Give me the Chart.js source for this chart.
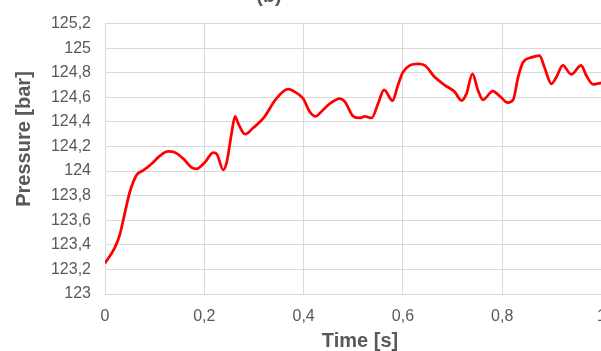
<!DOCTYPE html>
<html>
<head>
<meta charset="utf-8">
<script src="https://cdn.jsdelivr.net/npm/chart.js@4/dist/chart.umd.min.js"></script>
<style>
  html, body { margin: 0; padding: 0; background: #ffffff; overflow: hidden; }
  #wrap { position: relative; width: 619px; height: 351px; }
</style>
</head>
<body>
<div id="wrap"><canvas id="chart"></canvas></div>
<script>
// Time samples [s] and pressure readings [bar]
const times = [0, 0.02, 0.03, 0.04, 0.05, 0.064, 0.077, 0.094, 0.111, 0.127, 0.141, 0.158, 0.174, 0.184,
  0.201, 0.218, 0.225, 0.238, 0.245, 0.255, 0.262, 0.268, 0.282, 0.298, 0.319, 0.345, 0.369, 0.382,
  0.399, 0.412, 0.424, 0.436, 0.453, 0.473, 0.483, 0.5, 0.513, 0.523, 0.537, 0.55, 0.562, 0.579, 0.59,
  0.6, 0.614, 0.63, 0.644, 0.664, 0.684, 0.704, 0.718, 0.728, 0.74, 0.751, 0.761, 0.781, 0.795,
  0.811, 0.822, 0.832, 0.842, 0.859, 0.875, 0.885, 0.899, 0.909, 0.922, 0.939, 0.959, 0.969, 0.983, 1.0];
const pressures = [123.25, 123.38, 123.485, 123.66, 123.83, 123.97, 124.005, 124.06, 124.125, 124.16, 124.152, 124.10, 124.03, 124.018,
  124.07, 124.15, 124.14, 124.01, 124.07, 124.31, 124.445, 124.39, 124.30, 124.35, 124.43, 124.59, 124.666, 124.645,
  124.59, 124.485, 124.445, 124.485, 124.55, 124.59, 124.565, 124.445, 124.432, 124.445, 124.432, 124.55, 124.66, 124.574, 124.70,
  124.805, 124.86, 124.872, 124.86, 124.765, 124.70, 124.645, 124.574, 124.63, 124.79, 124.66, 124.58, 124.65, 124.61,
  124.557, 124.58, 124.765, 124.885, 124.925, 124.94, 124.845, 124.71, 124.765, 124.86, 124.787, 124.86, 124.78, 124.706, 124.718];

// Axis ranges and labels
const xRange = [0, 1, 0.2];
const yRange = [123, 125.2, 0.2];
const chartTitle = '(b)';
const xTitle = 'Time [s]';
const yTitle = 'Pressure [bar]';

const textColor = '#595959';
const gridColor = '#d9d9d9';

function commaDecimal(v) {
  return String(Math.round(v * 10) / 10).replace('.', ',');
}

// Titles drawn at fixed spots around the plot
const titlesPlugin = {
  id: 'titles',
  afterDraw(chart) {
    const ctx = chart.ctx;
    ctx.save();
    ctx.fillStyle = textColor;
    ctx.font = 'bold 20px "Liberation Sans", Arial, sans-serif';
    ctx.textAlign = 'center';
    ctx.textBaseline = 'alphabetic';
    ctx.fillText(xTitle, 360, 347);
    ctx.fillText(chartTitle, 269, 1.5);
    ctx.translate(29.5, 139);
    ctx.rotate(-Math.PI / 2);
    ctx.fillText(yTitle, 0, 0);
    ctx.restore();
  }
};

new Chart(document.getElementById('chart'), {
  type: 'line',
  data: {
    datasets: [{
      data: times.map((t, i) => ({ x: t, y: pressures[i] })),
      borderColor: '#ff0000',
      borderWidth: 2.75,
      pointRadius: 0,
      fill: false,
      cubicInterpolationMode: 'monotone'
    }]
  },
  options: {
    responsive: true,
    maintainAspectRatio: false,
    animation: false,
    layout: { padding: { top: 19, left: 0, right: 0, bottom: 0 } },
    plugins: { legend: { display: false }, tooltip: { enabled: false } },
    scales: {
      x: {
        type: 'linear',
        min: xRange[0], max: xRange[1],
        afterFit(scale) { scale.height = 57; },
        ticks: {
          stepSize: xRange[2],
          padding: 13,
          color: textColor,
          font: { size: 16, family: '"Liberation Sans", Arial, sans-serif' },
          callback: v => commaDecimal(v),
          maxRotation: 0
        },
        grid: { color: gridColor, lineWidth: 1, drawTicks: false },
        border: { color: gridColor, width: 1 }
      },
      y: {
        min: yRange[0], max: yRange[1],
        afterFit(scale) { scale.width = 105; },
        ticks: {
          stepSize: yRange[2],
          padding: 14,
          color: textColor,
          font: { size: 16, family: '"Liberation Sans", Arial, sans-serif' },
          callback: v => commaDecimal(v)
        },
        grid: { color: gridColor, lineWidth: 1, drawTicks: false },
        border: { color: gridColor, width: 1 }
      }
    }
  },
  plugins: [titlesPlugin]
});
</script>
</body>
</html>
